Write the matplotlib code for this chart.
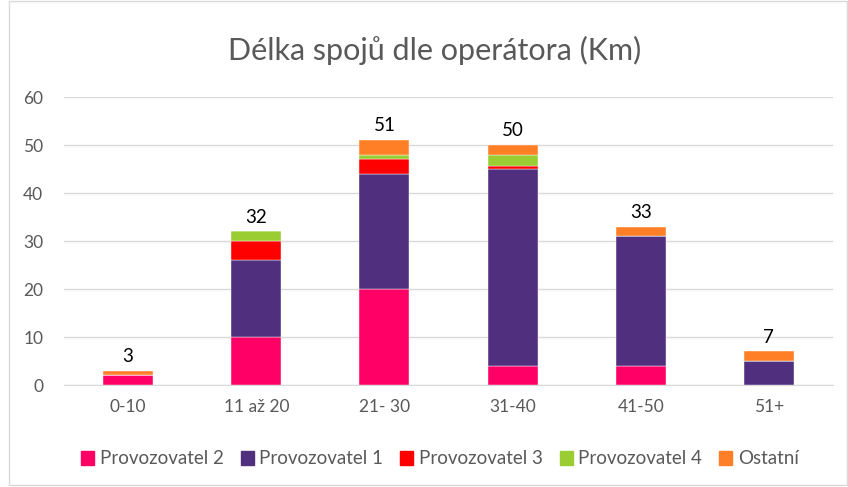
import matplotlib.pyplot as plt
import numpy as np
from matplotlib.patches import Rectangle

plt.rcParams["font.family"] = ["Lato", "DejaVu Sans"]

categories = ["0-10", "11 až 20", "21- 30", "31-40", "41-50", "51+"]
series_names = ["Provozovatel 2", "Provozovatel 1", "Provozovatel 3", "Provozovatel 4", "Ostatní"]
provozovatel_2 = [2, 10, 20, 4, 4, 0]
provozovatel_1 = [0, 16, 24, 41, 27, 5]
provozovatel_3 = [0, 4, 3, 0.7, 0, 0]
provozovatel_4 = [0, 2, 1, 2.3, 0, 0]
ostatni = [1, 0, 3, 2, 2, 2]

colors = ["#FF0066", "#512F7F", "#FF0000", "#9ACD32", "#FF7F27"]
series = [provozovatel_2, provozovatel_1, provozovatel_3, provozovatel_4, ostatni]

fig = plt.figure(figsize=(8.48, 4.87), dpi=100)
ax = fig.add_axes([64 / 848, 1 - 385 / 487, 769 / 848, 288 / 487])

x = np.arange(len(categories))
bottom = np.zeros(len(categories))
for name, vals, col in zip(series_names, series, colors):
    vals = np.asarray(vals, dtype=float)
    ax.bar(x, vals, width=0.39, bottom=bottom, color=col, label=name,
           edgecolor="white", linewidth=0.3, zorder=3)
    bottom += vals

for xi, total in zip(x, bottom):
    ax.text(xi, total + 1.2, f"{total:.0f}", ha="center", va="bottom",
            fontsize=13.5, color="#000000", zorder=4)

ax.set_xlim(-0.5, len(categories) - 0.5)
ax.set_ylim(0, 60)
ax.set_yticks(range(0, 61, 10))
ax.set_xticks(x)
ax.set_xticklabels(categories)
ax.grid(axis="y", color="#D9D9D9", linewidth=1.0, zorder=0)
ax.tick_params(axis="both", length=0, labelsize=12.5, colors="#595959")
ax.tick_params(axis="y", pad=15)
ax.tick_params(axis="x", pad=10)
for side in ("top", "right", "left"):
    ax.spines[side].set_visible(False)
ax.spines["bottom"].set_color("#D9D9D9")

fig.text(435 / 848, 1 - 50 / 487, "Délka spojů dle operátora (Km)", ha="center",
         va="center", fontsize=22, color="#595959")

handles = [Rectangle((0, 0), 1, 1, color=c) for c in colors]
fig.legend(handles, series_names, loc="center", bbox_to_anchor=(440 / 848, 1 - 459 / 487),
           ncol=5, frameon=False, fontsize=13.5, handlelength=0.7, handleheight=0.7,
           handletextpad=0.3, columnspacing=0.9, labelcolor="#595959")

border = Rectangle((9 / 848, 2 / 487), 838 / 848, 484 / 487, transform=fig.transFigure,
                   fill=False, edgecolor="#D9D9D9", linewidth=1.0)
fig.patches.append(border)

fig.savefig("out.png", dpi=100)
